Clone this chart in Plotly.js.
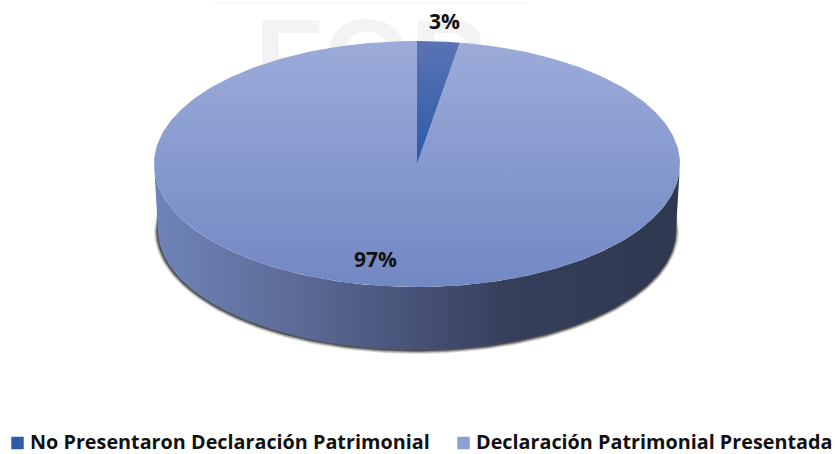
<!DOCTYPE html>
<html><head><meta charset="utf-8">
<script src="https://cdn.plot.ly/plotly-3.0.1.min.js"></script>
<style>html,body{margin:0;padding:0;background:#fff}#c{width:835px;height:454px}</style>
</head><body><div id="c"></div>
<script>
const categories = ["No Presentaron Declaración Patrimonial", "Declaración Patrimonial Presentada"];
const values = [2.6, 97.4];
const sliceColors = ["#2f5ba9", "#8f9fd3"];
const labelX = [444, 375];
const labelY = [21, 259];
const legendMarkerX = [17.5, 463.5];
const legendTextX = [30, 476];
const legendMarkerY = 443;
const legendTextY = 444;
const watermark = ["FOP"];

const cx = 417, cy = 164, rx = 263, ry = 123;
const bx = 259, by = 230, bry = 120;
const total = values.reduce((a, b) => a + b, 0);

function arc(x0, y0, a, b, from, to, n) {
  const xs = [], ys = [];
  for (let i = 0; i <= n; i++) {
    const t = from + (to - from) * i / n;
    xs.push(x0 + a * Math.sin(t)); ys.push(y0 - b * Math.cos(t));
  }
  return [xs, ys];
}
function poly(x, y, extra) {
  return Object.assign({x, y, type: "scatter", mode: "lines", fill: "toself",
    line: {width: 0}, hoverinfo: "skip", showlegend: false}, extra);
}
const traces = [];

// faint watermark behind the pie
traces.push({x: [370], y: [69], type: "scatter", mode: "text", text: watermark, textposition: "middle center",
  textfont: {family: "Liberation Sans", size: 112, color: "#f3f3f3", weight: 700}, showlegend: false, hoverinfo: "skip"});

// soft shadow under the rim
[[3.5, 0.16], [2.5, 0.25], [1.5, 0.4], [0.7, 0.5]].forEach(([g, op]) => {
  const e = arc(cx - 0.5, by + 0.5, bx + g, bry + g, Math.PI * 0.5, Math.PI * 1.5, 160);
  const t = arc(cx, cy + 30, rx - 6, ry, Math.PI * 1.5, Math.PI * 0.5, 160);
  traces.push(poly(e[0].concat(t[0]), e[1].concat(t[1]), {fillcolor: `rgba(40,40,40,${op})`}));
});

// side wall
const rimTop = arc(cx, cy, rx, ry, Math.PI * 1.5, Math.PI * 0.5, 200);
const rimBot = arc(cx, by, bx, bry, Math.PI * 0.5, Math.PI * 1.5, 200);
traces.push(poly(rimTop[0].concat(rimBot[0]), rimTop[1].concat(rimBot[1]), {
  fillgradient: {type: "horizontal", colorscale: [
    [0, "#6f84b8"], [0.28, "#5c6a96"], [0.5, "#465176"], [0.68, "#353f5b"], [1, "#2e384f"]]}
}));

// top face: slices built from the values
const faces = [
  [[0, "#2b5aa8"], [1, "#5a74b4"]],
  [[0, "#7288c4"], [1, "#9cabd9"]]
];
let cum = 0;
const spans = values.map(v => { const s = cum; cum += v; return [s / total, cum / total]; });
[1, 0].forEach(i => {
  const p = arc(cx, cy, rx, ry, spans[i][0] * 2 * Math.PI, spans[i][1] * 2 * Math.PI, 300);
  traces.push(poly([cx].concat(p[0], [cx]), [cy].concat(p[1], [cy]),
    {fillgradient: {type: "vertical", colorscale: faces[i]}}));
});

// legend entries
categories.forEach((name, i) => {
  traces.push({x: [legendMarkerX[i]], y: [legendMarkerY], type: "scatter", mode: "markers",
    marker: {symbol: "square", size: 12.5, color: sliceColors[i]}, showlegend: false, hoverinfo: "skip"});
  traces.push({x: [legendTextX[i]], y: [legendTextY], type: "scatter", mode: "text", text: [name],
    textposition: "middle right", textfont: {family: "Open Sans", size: 19.8, color: "#111", weight: 700},
    showlegend: false, hoverinfo: "skip"});
});

const layout = {
  width: 835, height: 454, margin: {l: 0, r: 0, t: 0, b: 0},
  paper_bgcolor: "#fff", plot_bgcolor: "rgba(0,0,0,0)", showlegend: false,
  xaxis: {range: [0, 835], visible: false, fixedrange: true},
  yaxis: {range: [454, 0], visible: false, fixedrange: true},
  shapes: [{type: "line", x0: 212, x1: 525, y0: 3, y1: 3, layer: "below", line: {color: "#f4f4f4", width: 1.5}}],
  annotations: values.map((v, i) => ({
    x: labelX[i], y: labelY[i], text: "<b>" + Math.round(v) + "%</b>", showarrow: false,
    font: {family: "Open Sans", size: 21, color: "#111"}
  }))
};
Plotly.newPlot("c", traces, layout, {displayModeBar: false, staticPlot: true});
</script></body></html>
